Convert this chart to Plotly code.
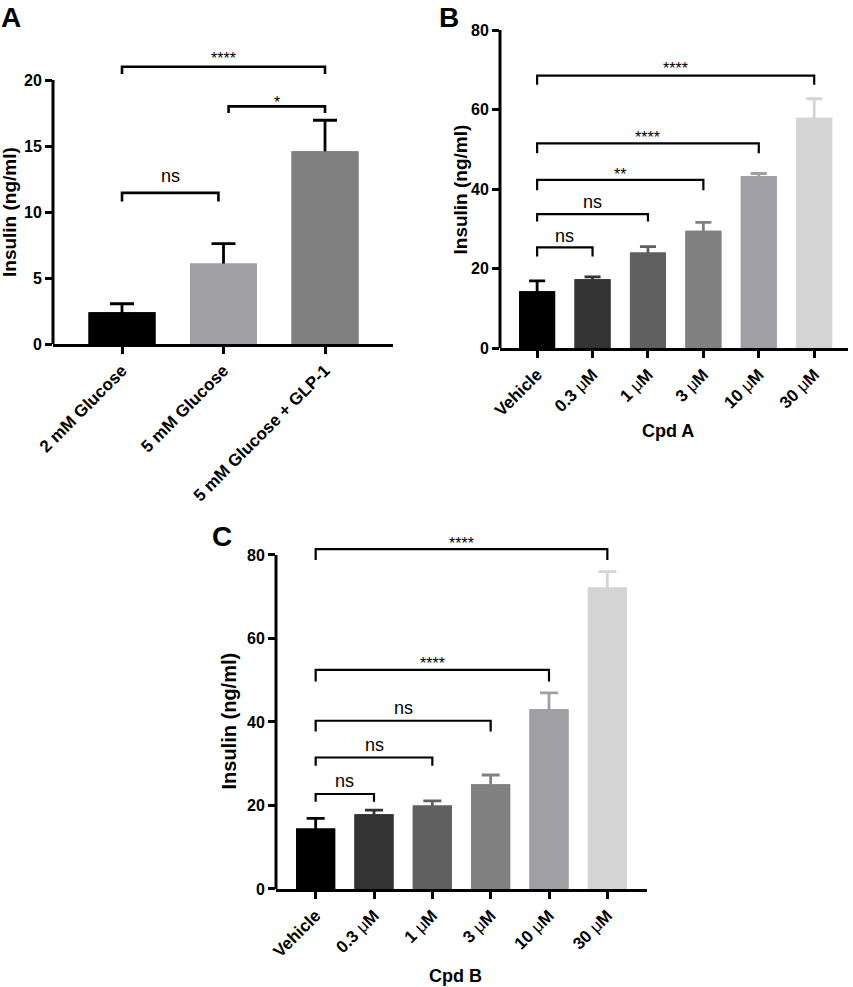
import plotly.graph_objects as go

W, H = 853, 987
FONT = "Liberation Sans, Arial, sans-serif"

# ---------------- data ----------------
# Panel A
a_labels = ["2 mM Glucose", "5 mM Glucose", "5 mM Glucose + GLP-1"]
a_mean = [2.4, 6.1, 14.6]
a_err_top = [3.05, 7.6, 16.95]
a_colors = ["#000000", "#a0a0a4", "#808080"]
a_err_colors = ["#000000", "#000000", "#000000"]
a_brk_from = [0, 1.05, 0]
a_brk_to = [0.95, 2, 2]
a_brk_y = [11.45, 18.0, 21.0]
a_brk_drop = [10.8, 17.5, 20.45]
a_brk_text = ["ns", "*", "****"]
a_text_y = [12.6, 18.6, 21.9]

# Panel B (Cpd A)
dose_labels = ["Vehicle", "0.3 μM", "1 μM", "3 μM", "10 μM", "30 μM"]
b_mean = [14.3, 17.3, 24.0, 29.5, 43.3, 57.9]
b_err_top = [16.9, 17.9, 25.5, 31.6, 43.9, 62.7]
dose_colors = ["#000000", "#333333", "#606060", "#808080", "#a0a0a4", "#d4d4d4"]
b_brk_from = [0, 0, 0, 0, 0]
b_brk_to = [1, 2, 3, 4, 5]
b_brk_y = [25.3, 33.7, 42.3, 51.5, 68.5]
b_brk_drop = [23.0, 31.8, 39.7, 49.0, 66.2]
b_brk_text = ["ns", "ns", "**", "****", "****"]
b_text_y = [27.6, 36.2, 44.6, 54.0, 71.2]

# Panel C (Cpd B)
c_mean = [14.5, 17.9, 20.0, 25.1, 43.1, 72.2]
c_err_top = [16.9, 18.9, 21.1, 27.3, 47.0, 76.0]
c_brk_from = [0, 0, 0, 0, 0]
c_brk_to = [1, 2, 3, 4, 5]
c_brk_y = [22.75, 31.5, 40.3, 52.5, 81.4]
c_brk_drop = [20.9, 29.5, 37.7, 49.7, 78.8]
c_brk_text = ["ns", "ns", "ns", "****", "****"]
c_text_y = [25.5, 34.1, 42.9, 55.0, 83.8]

fig = go.Figure()


def fx(px):
    return px / W


def fy(px):
    return 1 - px / H


def add_panel(idx, labels, means, tops, colors, err_colors, bwidth, capw, hide,
              bfrom, bto, by, bdrop, btext, ty, brk_w):
    xa = "x" if idx == 1 else f"x{idx}"
    ya = "y" if idx == 1 else f"y{idx}"
    n = len(means)
    for i in range(n):
        fig.add_trace(go.Bar(
            x=[i], y=[means[i]], width=bwidth, xaxis=xa, yaxis=ya,
            marker=dict(color=colors[i], line=dict(width=0)),
            error_y=dict(type="data", symmetric=False,
                         array=[tops[i] - means[i]], arrayminus=[hide],
                         color=err_colors[i], thickness=2.8, width=capw),
            hoverinfo="skip"))
        # cover the lower cap of the error bar
        fig.add_trace(go.Bar(
            x=[i], y=[means[i]], width=bwidth, xaxis=xa, yaxis=ya,
            marker=dict(color=colors[i], line=dict(width=0)),
            hoverinfo="skip"))
    for k in range(len(by)):
        fig.add_trace(go.Scatter(
            x=[bfrom[k], bfrom[k], bto[k], bto[k]],
            y=[bdrop[k], by[k], by[k], bdrop[k]],
            mode="lines", line=dict(color="black", width=brk_w),
            xaxis=xa, yaxis=ya, hoverinfo="skip"))
        is_ns = btext[k] == "ns"
        fig.add_annotation(
            x=(bfrom[k] + bto[k]) / 2, y=ty[k], xref=xa, yref=ya,
            text=btext[k], showarrow=False, yanchor="middle",
            yshift=2 if is_ns else -4,
            font=dict(family=FONT, size=18 if is_ns else 16, color="black"))


# Panel A
add_panel(1, a_labels, a_mean, a_err_top, a_colors, a_err_colors, 0.66, 12, 0.3,
          a_brk_from, a_brk_to, a_brk_y, a_brk_drop, a_brk_text, a_text_y, 2.6)
# Panel B
add_panel(2, dose_labels, b_mean, b_err_top, dose_colors, dose_colors, 0.65, 8, 1.0,
          b_brk_from, b_brk_to, b_brk_y, b_brk_drop, b_brk_text, b_text_y, 2.2)
# Panel C
add_panel(3, dose_labels, c_mean, c_err_top, dose_colors, dose_colors, 0.67, 9, 1.0,
          c_brk_from, c_brk_to, c_brk_y, c_brk_drop, c_brk_text, c_text_y, 2.2)


def bold_label(s):
    if "μ" in s:
        a, b = s.split("μ")
        return f"<b>{a}</b>μ<b>{b}</b>"
    return f"<b>{s}</b>"


def xaxis_cfg(dom, rng, labels, anchor):
    return dict(domain=dom, range=rng, tickmode="array", anchor=anchor,
                tickvals=list(range(len(labels))),
                ticktext=[bold_label(s) for s in labels],
                tickangle=-45, showline=True, linewidth=3, linecolor="black",
                ticks="outside", ticklen=7, tickwidth=2.6, tickcolor="black",
                showgrid=False, zeroline=False, automargin=False,
                tickfont=dict(family=FONT, size=17, color="black"))


def yaxis_cfg(dom, rng, tickvals, anchor, size=16):
    return dict(domain=dom, range=rng, tickmode="array", tickvals=tickvals,
                showline=False, ticks="outside", ticklen=7, tickwidth=2.6,
                tickcolor="black", showgrid=False, zeroline=False,
                anchor=anchor, automargin=False,
                tickfont=dict(family=FONT, size=size, color="black", weight="bold"))


# pixel geometry of each panel
A_left, A_right, A_bottom, A_scale, A_rmax = 53, 393, 344, 13.2, 23.2
B_left, B_right, B_bottom, B_scale, B_rmax = 500, 848, 348, 3.975, 80
C_left, C_right, C_bottom, C_scale, C_rmax = 276, 647, 889, 4.175, 85.5

a_ymax, b_ymax, c_ymax = 20, 80, 80

fig.update_layout(
    width=W, height=H, margin=dict(l=0, r=0, t=0, b=0, autoexpand=False),
    paper_bgcolor="white", plot_bgcolor="white", showlegend=False,
    barmode="overlay",
    xaxis=xaxis_cfg([fx(A_left), fx(A_right)], [-0.68, 2.67], a_labels, "y"),
    yaxis=yaxis_cfg([fy(A_bottom), fy(A_bottom - A_rmax * A_scale)], [0, A_rmax],
                    [0, 5, 10, 15, 20], "x"),
    xaxis2=xaxis_cfg([fx(B_left), fx(B_right)], [-0.67, 5.61], dose_labels, "y2"),
    yaxis2=yaxis_cfg([fy(B_bottom), fy(B_bottom - B_rmax * B_scale)], [0, B_rmax],
                     [0, 20, 40, 60, 80], "x2", 16),
    xaxis3=xaxis_cfg([fx(C_left), fx(C_right)], [-0.68, 5.68], dose_labels, "y3"),
    yaxis3=yaxis_cfg([fy(C_bottom), fy(C_bottom - C_rmax * C_scale)], [0, C_rmax],
                     [0, 20, 40, 60, 80], "x3"),
)

# y-axis lines (stopping at top tick)
for yr, left, ymax in [("y", A_left, a_ymax), ("y2", B_left, b_ymax), ("y3", C_left, c_ymax)]:
    fig.add_shape(type="line", xref="paper", yref=yr, x0=fx(left), x1=fx(left),
                  y0=0, y1=ymax, line=dict(color="black", width=3))

# axis titles and panel letters
ytitle = "<b>Insulin (ng/ml)</b>"
for (xc, yc, sz) in [(9, 212, 19), (460, 189.5, 19), (228, 721.5, 20)]:
    fig.add_annotation(x=fx(xc), y=fy(yc), xref="paper", yref="paper", text=ytitle,
                       textangle=-90, showarrow=False, xanchor="center", yanchor="middle",
                       font=dict(family=FONT, size=sz, color="black"))
for (xc, yc, t) in [(668, 431, "Cpd A"), (455, 976, "Cpd B")]:
    fig.add_annotation(x=fx(xc), y=fy(yc), xref="paper", yref="paper", text=f"<b>{t}</b>",
                       showarrow=False, xanchor="center", yanchor="middle",
                       font=dict(family=FONT, size=18, color="black"))
for (xc, yt, t) in [(11, 0, "A"), (449, 0, "B"), (222, 519, "C")]:
    fig.add_annotation(x=fx(xc), y=fy(yt), xref="paper", yref="paper", text=f"<b>{t}</b>",
                       showarrow=False, xanchor="center", yanchor="top",
                       font=dict(family=FONT, size=28, color="black"))

fig.write_html("out.html", config={"displayModeBar": False},
               post_script="document.body.style.margin='0px';document.body.style.overflow='hidden';")
